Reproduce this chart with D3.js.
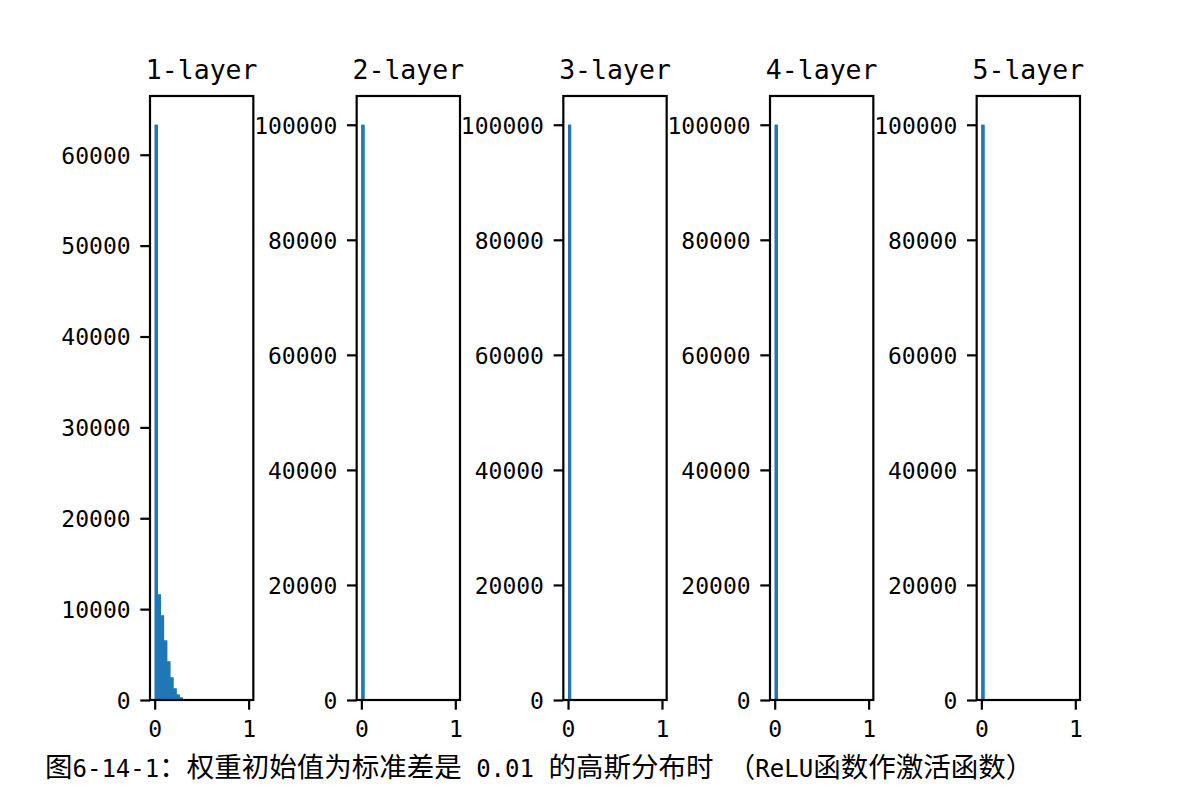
<!DOCTYPE html>
<html><head><meta charset="utf-8">
<script src="https://cdn.jsdelivr.net/npm/d3@7"></script>
<style>body{margin:0;background:#fff}</style>
</head><body><svg id="c" width="1200" height="800" style="background:#fff"></svg>
<script>
// ---- data ----
const titles = ["1-layer", "2-layer", "3-layer", "4-layer", "5-layer"];
const binCount = 30;                 // histogram bins over range [0, 1]
const layer1Counts = [63300, 11620, 9300, 6550, 4240, 2480, 1270, 600, 270, 90, 30];
const layer2Counts = [100000];
const layer3Counts = [100000];
const layer4Counts = [100000];
const layer5Counts = [100000];
const layer1Ticks = [0, 10000, 20000, 30000, 40000, 50000, 60000];
const otherTicks = [0, 20000, 40000, 60000, 80000, 100000];
const xTicks = [0, 1];
const caption = "图6-14-1：权重初始值为标准差是 0.01 的高斯分布时 （ReLU函数作激活函数）";

const layers = [layer1Counts, layer2Counts, layer3Counts, layer4Counts, layer5Counts];
const yTickSets = [layer1Ticks, otherTicks, otherTicks, otherTicks, otherTicks];

// ---- layout ----
const svg = d3.select("#c");
const axL = 150, axR = 1080, axTop = 96, axBot = 700, nP = 5, wspace = 1.0;
const axW = (axR - axL) / (nP + (nP - 1) * wspace);
const latin = "'DejaVu Sans Mono', 'Noto Sans CJK SC', monospace";
const cjk = "'Noto Sans CJK SC', sans-serif";
const tickLen = 9.7, tickPad = 9.7, lw = 2.2;
const bw = 1 / binCount;

layers.forEach((counts, i) => {
  const x0 = axL + i * axW * (1 + wspace);
  const x = d3.scaleLinear().domain([-0.05, 1.05]).range([x0, x0 + axW]);
  const y = d3.scaleLinear().domain([0, d3.max(counts) * 1.05]).range([axBot, axTop]);
  const g = svg.append("g");

  // one continuous path per histogram avoids seams between adjacent bins
  const area = d3.area().curve(d3.curveStepAfter)
    .x(d => x(d[0])).y0(axBot).y1(d => y(d[1]));
  const pts = counts.map((c, j) => [j * bw, c]);
  pts.push([counts.length * bw, counts[counts.length - 1]]);
  g.selectAll("rect.bar").data(counts).join("rect").attr("class", "bar")
    .attr("x", (d, j) => x(j * bw))
    .attr("width", (d, j) => x((j + 1) * bw) - x(j * bw))
    .attr("y", d => y(d))
    .attr("height", d => axBot - y(d))
    .attr("fill", "#1f77b4");
  g.append("path").datum(pts).attr("d", area).attr("fill", "#1f77b4");

  const ya = g.append("g").attr("transform", `translate(${x0},0)`)
    .call(d3.axisLeft(y).tickValues(yTickSets[i]).tickFormat(d3.format("d"))
      .tickSize(tickLen).tickPadding(tickPad));
  const xa = g.append("g").attr("transform", `translate(0,${axBot})`)
    .call(d3.axisBottom(x).tickValues(xTicks).tickFormat(d3.format("d"))
      .tickSize(tickLen).tickPadding(tickPad));
  [ya, xa].forEach(a => {
    a.select(".domain").remove();
    a.selectAll(".tick line").attr("stroke", "#000").attr("stroke-width", lw);
    a.selectAll(".tick text").attr("fill", "#000")
      .style("font-family", latin).style("font-size", "23px");
  });
  ya.selectAll(".tick text").attr("dy", "0.36em");
  xa.selectAll(".tick text").attr("dy", "0.75em");

  g.append("rect")
    .attr("x", x0).attr("y", axTop).attr("width", axW).attr("height", axBot - axTop)
    .attr("fill", "none").attr("stroke", "#000").attr("stroke-width", lw);

  g.append("text")
    .attr("x", x0 + axW / 2).attr("y", axTop - 17.5)
    .attr("text-anchor", "middle")
    .style("font-family", latin).style("font-size", "26.5px")
    .text(titles[i]);
});

// ---- caption: Latin runs in monospace, CJK runs in Noto Sans CJK ----
const cap = svg.append("text").attr("x", 45).attr("y", 777).style("white-space", "pre");
caption.match(/[\x00-\x7F]+|[^\x00-\x7F]+/g).forEach(seg => {
  const ascii = /^[\x00-\x7F]+$/.test(seg);
  cap.append("tspan")
    .style("font-family", ascii ? latin : cjk)
    .style("font-size", ascii ? "24px" : "27.5px")
    .text(seg);
});
</script>
</body></html>
